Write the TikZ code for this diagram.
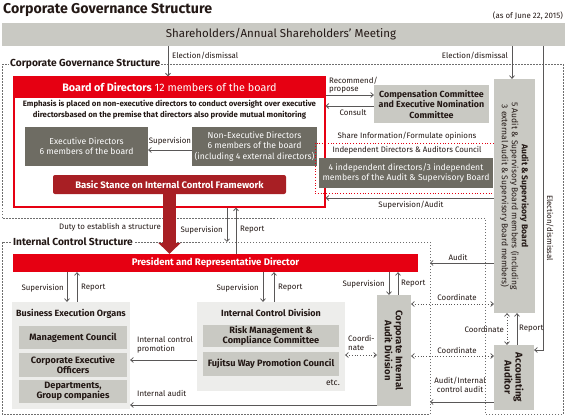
\documentclass[tikz,border=0pt]{standalone}
\usepackage{fontspec}
\setmainfont{Fira Sans}
\usetikzlibrary{arrows.meta}
\definecolor{fred}{HTML}{E60012}
\definecolor{dred}{HTML}{A81F24}
\definecolor{dgray}{HTML}{6E6C63}
\definecolor{mgray}{HTML}{C9C9C3}
\definecolor{lgray}{HTML}{EDEDEB}
\definecolor{ink}{HTML}{231815}
\definecolor{lcol}{HTML}{595757}
\definecolor{dotc}{HTML}{6E6E6E}
\tikzset{
  lbl/.style={font=\fontsize{7.9}{8.6}\selectfont, text=ink, inner sep=0pt},
  arr/.style={draw=lcol, line width=0.8pt, -{Straight Barb[length=2.6pt,width=5pt]}},
  darr/.style={draw=lcol, line width=0.8pt, dotted, {Straight Barb[length=2.6pt,width=5pt]}-{Straight Barb[length=2.6pt,width=5pt]}},
  region/.style={draw=dotc, line width=0.6pt, dash pattern=on 1.5pt off 1.5pt},
  rlabel/.style={font=\bfseries\fontsize{10.2}{11}\selectfont, text=ink, fill=white, inner sep=1pt, anchor=west},
  darkbox/.style={fill=dgray, text=white, align=center, inner sep=0pt, font=\fontsize{8.6}{10.3}\selectfont},
  midbox/.style={fill=mgray, text=ink, align=center, inner sep=0pt, font=\bfseries\fontsize{9.2}{10.3}\selectfont},
  lightbox/.style={fill=lgray, inner sep=0pt},
}
\begin{document}
\begin{tikzpicture}[x=1pt,y=-1pt]
\useasboundingbox (0,0) rectangle (567,418);
% title
\node[anchor=west, font=\bfseries\fontsize{14.2}{16}\selectfont, text=ink, inner sep=0pt] (title) at (3,10) {Corporate Governance Structure};
\node[anchor=east, lbl] (date) at (563,16) {(as of June 22, 2015)};
% shareholders
\node[fill=mgray, minimum width=563pt, minimum height=23pt, inner sep=0pt, font=\fontsize{11.5}{13}\selectfont, text=ink] (sh) at (283.5,34.5) {\hspace*{-5pt}Shareholders/Annual Shareholders' Meeting};
% regions
\draw[region] (2,64) -- (563,64) -- (563,414) -- (485,414) -- (485,218) -- (2,218) -- cycle;
\node[rlabel] (cgs) at (9,64) {Corporate Governance Structure};
\draw[region] (2,242) rectangle (430,414);
\node[rlabel] (ics) at (12,242) {Internal Control Structure};
\coordinate (icR) at (430,0);
% board
\node[draw=fred, line width=1.3pt, minimum width=311pt, minimum height=130pt, inner sep=0pt, fill=white] (board) at (169.5,142) {};
\node[fill=fred, minimum width=312pt, minimum height=21pt, inner sep=0pt, text=white, font=\fontsize{10.8}{12}\selectfont] (bhead) at (169.5,87.5) {\textbf{Board of Directors} 12 members of the board};
\node[align=center, font=\bfseries\fontsize{7.8}{10.8}\selectfont, text=ink, inner sep=0pt] (emph) at (169.5,110) {Emphasis is placed on non-executive directors to conduct oversight over executive\\directorsbased on the premise that directors also provide mutual monitoring};
\node[darkbox, minimum width=123pt, minimum height=39pt] (exec) at (86.5,146.5) {Executive Directors\\6 members of the board};
\node[darkbox, minimum width=125pt, minimum height=39pt] (nonexec) at (254.5,146.5) {Non-Executive Directors\\6 members of the board\\(including 4 external directors)};
\node[fill=dred, rounded corners=2pt, minimum width=233pt, minimum height=19pt, inner sep=0pt, text=white, font=\bfseries\fontsize{9.5}{10}\selectfont] (basic) at (169.5,184.5) {Basic Stance on Internal Control Framework};
% compensation
\node[midbox, minimum width=115pt, minimum height=38pt, font=\bfseries\fontsize{8.9}{10.5}\selectfont] (comp) at (431.5,104) {Compensation Committee\\and Executive Nomination\\Committee};
% council
\node[draw=fred, line width=0.8pt, dotted, minimum width=182pt, minimum height=50pt, inner sep=0pt] (council) at (406,168) {};
\node[lbl] (counciltitle) at (407,150) {Independent Directors \& Auditors Council};
\node[darkbox, minimum width=174pt, minimum height=30pt] (cbox) at (406,173) {4 independent directors/3 independent\\members of the Audit \& Supervisory Board};
\node[lbl] (share) at (407,136) {Share Information/Formulate opinions};
% audit & supervisory board
\node[fill=mgray, minimum width=41pt, minimum height=234pt, inner sep=0pt] (asb) at (514.5,196) {};
\node[rotate=-90, align=center, text=ink, font=\fontsize{8.5}{10}\selectfont, inner sep=0pt] (asbtext) at (asb.center) {\textbf{Audit \& Supervisory Board}\\5 Audit \& Supervisory Board members (including\\3 external Audit \& Supervisory Board members)};
% accounting auditor
\node[fill=mgray, minimum width=40pt, minimum height=65pt, inner sep=0pt] (aa) at (514,377.5) {};
\node[rotate=-90, align=center, text=ink, font=\bfseries\fontsize{9.8}{11}\selectfont, inner sep=0pt] (aatext) at (aa.center) {Accounting\\Auditor};
% president
\node[fill=fred, minimum width=405pt, minimum height=18pt, inner sep=0pt, text=white, font=\bfseries\fontsize{9.6}{10}\selectfont] (pres) at (215.5,263) {President and Representative Director};
% internal audit division
\node[fill=mgray, minimum width=34pt, minimum height=111pt, inner sep=0pt] (iad) at (394,350.5) {};
\node[rotate=-90, align=center, text=ink, font=\bfseries\fontsize{9.5}{11}\selectfont, inner sep=0pt] (iadtext) at (iad.center) {Corporate Internal\\Audit Division};
% business execution organs
\node[lightbox, minimum width=118pt, minimum height=107pt] (beo) at (71,355.5) {};
\node[font=\bfseries\fontsize{9}{10}\selectfont, text=ink, inner sep=0pt] (beotitle) at (71,314) {Business Execution Organs};
\node[midbox, minimum width=108pt, minimum height=23pt] (mc) at (73,337.5) {Management Council};
\node[midbox, minimum width=108pt, minimum height=24pt] (ceo) at (73,365) {Corporate Executive\\Officers};
\node[midbox, minimum width=108pt, minimum height=23pt] (dept) at (73,391.5) {Departments,\\Group companies};
% internal control division
\node[lightbox, minimum width=148pt, minimum height=89pt] (icd) at (271,346.5) {};
\node[font=\bfseries\fontsize{9}{10}\selectfont, text=ink, inner sep=0pt] (icdtitle) at (271,313) {Internal Control Division};
\node[midbox, minimum width=136pt, minimum height=22pt] (risk) at (271,336) {Risk Management \&\\Compliance Committee};
\node[midbox, minimum width=136pt, minimum height=24pt] (fwp) at (271,364) {Fujitsu Way Promotion Council};
\node[lbl, anchor=east, font=\fontsize{8.5}{9}\selectfont] (etc) at (340,383) {etc.};
% ---------- connectors ----------
\coordinate (x168) at (168,0);
\draw[arr] (sh.south -| x168) -- (board.north -| x168);
\node[lbl, anchor=west] (l1) at (172,56) {Election/dismissal};
\coordinate (x512) at (512,0);
\draw[arr] (sh.south -| x512) -- (asb.north -| x512);
\node[lbl, anchor=east] (l2) at (508,56) {Election/dismissal};
\coordinate (e3) at (543,350);
\draw[arr] (sh.south -| e3) |- (aa.east |- e3);
\node[lbl, rotate=-90] (l3) at (550,228) {Election/dismissal};
% recommend / consult
\coordinate (y95) at (0,95);
\coordinate (y106) at (0,106);
\draw[arr] (board.east |- y95) -- (comp.west |- y95);
\draw[arr] (comp.west |- y106) -- (board.east |- y106);
\node[lbl, anchor=west, align=left] (l4) at (329,85) {Recommend/\\propose};
\node[lbl] (l5) at (353,113) {Consult};
% supervision exec
\coordinate (y150) at (0,150);
\draw[arr] (nonexec.west |- y150) -- (exec.east |- y150);
\node[lbl] (l6) at (170,141) {Supervision};
% supervision/audit
\coordinate (y198) at (0,198);
\draw[arr] (asb.west |- y198) -- (board.east |- y198);
\node[lbl] (l7) at (411,205) {Supervision/Audit};
% thick arrow
\draw[dred, line width=13pt, -{Triangle[width=22pt,length=11pt]}] (basic.south) -- (pres.north -| basic.south);
\node[lbl, anchor=east] (l8) at (161,227) {Duty to establish a structure};
% CG <-> president
\coordinate (s1) at (227,242);
\coordinate (r1) at (236,0);
\draw[arr] (board.south -| s1) -- (s1);
\draw[arr] (pres.north -| r1) -- (board.south -| r1);
\node[lbl, anchor=east] (l9) at (223,230) {Supervision};
\node[lbl, anchor=west] (l10) at (240,230) {Report};
% audit
\coordinate (y263) at (0,263);
\draw[arr] (asb.west |- y263) -- (icR |- y263);
\node[lbl] (l11) at (458,257) {Audit};
% president -> BEO
\coordinate (s2) at (67,0);
\coordinate (r2) at (77,0);
\draw[arr] (pres.south -| s2) -- (beo.north -| s2);
\draw[arr] (beo.north -| r2) -- (pres.south -| r2);
\node[lbl, anchor=east] (l12) at (64,288) {Supervision};
\node[lbl, anchor=west] (l13) at (81,288) {Report};
% president -> ICD
\coordinate (s3) at (263,0);
\coordinate (r3) at (274,0);
\draw[arr] (pres.south -| s3) -- (icd.north -| s3);
\draw[arr] (icd.north -| r3) -- (pres.south -| r3);
\node[lbl, anchor=east] (l14) at (259,288) {Supervision};
\node[lbl, anchor=west] (l15) at (278,288) {Report};
% president -> IAD
\coordinate (s4) at (389,0);
\coordinate (r4) at (398,0);
\draw[arr] (pres.south -| s4) -- (iad.north -| s4);
\draw[arr] (iad.north -| r4) -- (pres.south -| r4);
\node[lbl, anchor=east] (l16) at (385,284) {Supervision};
\node[lbl, anchor=west] (l17) at (401,284) {Report};
% coordinate IAD <-> ASB
\coordinate (y304) at (0,304);
\draw[darr] (iad.east |- y304) -- (asb.west |- y304);
\node[lbl] (l18) at (457,297) {Coordinate};
% coordinate IAD <-> AA
\coordinate (y356) at (0,356);
\draw[darr] (iad.east |- y356) -- (aa.west |- y356);
\node[lbl] (l19) at (457,350) {Coordinate};
% ASB <-> AA
\coordinate (x507) at (507,0);
\coordinate (x517) at (517,0);
\draw[darr] (asb.south -| x507) -- (aa.north -| x507);
\draw[arr] (aa.north -| x517) -- (asb.south -| x517);
\node[lbl, anchor=east] (l20) at (504,329) {Coordinate};
\node[lbl, anchor=west] (l21) at (519,329) {Report};
% audit/internal control audit
\coordinate (y402) at (0,402);
\draw[arr] (aa.west |- y402) -- (icR |- y402);
\node[lbl, align=center] (l22) at (460,385) {Audit/Internal\\control audit};
% internal audit
\coordinate (y405) at (0,405);
\draw[arr] (iad.west |- y405) -- (beo.east |- y405);
\node[lbl, anchor=west] (l23) at (137,393) {Internal audit};
% internal control promotion
\coordinate (y360) at (0,360);
\draw[arr] (icd.west |- y360) -- (beo.east |- y360);
\node[lbl, anchor=west, align=left] (l24) at (137,345) {Internal control\\promotion};
% coordi-nate
\coordinate (y355) at (0,355);
\draw[darr] (icd.east |- y355) -- (iad.west |- y355);
\node[lbl, anchor=west, align=left] (l25) at (348,343) {Coordi-\\nate};
\end{tikzpicture}
\end{document}
